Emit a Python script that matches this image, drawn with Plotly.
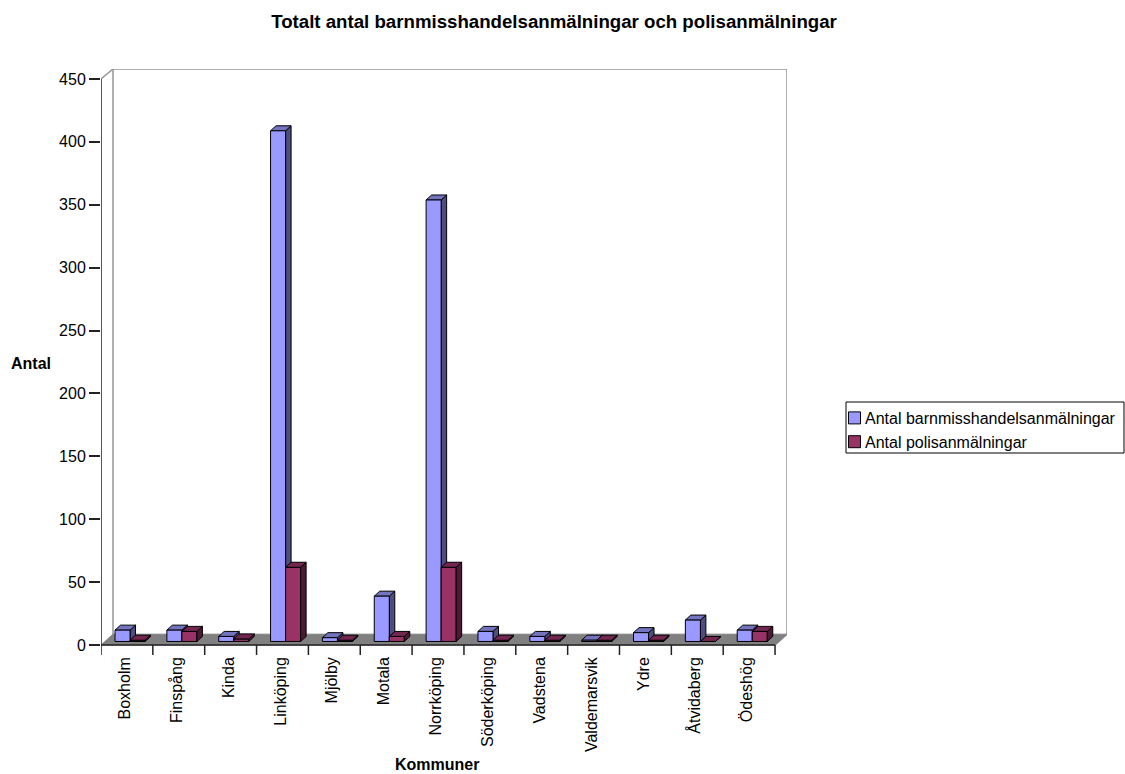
import plotly.graph_objects as go

categories = ["Boxholm", "Finspång", "Kinda", "Linköping", "Mjölby", "Motala", "Norrköping",
              "Söderköping", "Vadstena", "Valdemarsvik", "Ydre", "Åtvidaberg", "Ödeshög"]
anmalningar = [9, 9, 4, 406, 3, 36, 351, 8, 4, 1, 7, 17, 9]
polisanmalningar = [1, 8, 2, 59, 1, 4, 59, 1, 1, 1, 1, 0, 8]
series_names = ["Antal barnmisshandelsanmälningar", "Antal polisanmälningar"]
y_ticks = [0, 50, 100, 150, 200, 250, 300, 350, 400, 450]

FONT = "Liberation Sans, Arial, sans-serif"
W, H = 1125, 774
L, R, T, B = 101, 787, 69, 655
n = len(categories)
px_x = 51.85
px_y = (645 - 79) / 450
xmax = (R - L) / px_x
ymin, ymax = -(B - 645) / px_y, (645 - T) / px_y
wall_dx, wall_dy = 12 / px_x, 8.6
dx, dy = 5.5 / px_x, 4.0
base = 2.8
bw = 0.29
off = [0.415, 0.705]
GREY = "#959595"


def faces(values, offset):
    top_x, top_y, side_x, side_y = [], [], [], []
    for i, v in enumerate(values):
        x0, x1 = i + offset - bw / 2, i + offset + bw / 2
        y0, y1 = base, base + v
        top_x += [x0, x0 + dx, x1 + dx, x1, x0, None]
        top_y += [y1, y1 + dy, y1 + dy, y1, y1, None]
        side_x += [x1, x1 + dx, x1 + dx, x1, x1, None]
        side_y += [y0, y0 + dy, y1 + dy, y1, y0, None]
    return top_x, top_y, side_x, side_y


def poly(xs, ys, fill, xa="x", ya="y"):
    return go.Scatter(x=xs, y=ys, mode="lines", fill="toself", fillcolor=fill,
                      line=dict(color="black", width=1), hoverinfo="skip",
                      showlegend=False, xaxis=xa, yaxis=ya)


def line(xs, ys, color, width=1.0):
    return go.Scatter(x=xs, y=ys, mode="lines", line=dict(color=color, width=width),
                      hoverinfo="skip", showlegend=False)


fig = go.Figure()
# walls and floor
fig.add_trace(line([0, wall_dx, xmax, xmax, n], [450, ymax, ymax, wall_dy, 0], GREY, 1.5))
fig.add_trace(line([wall_dx, wall_dx], [ymax, wall_dy], GREY, 1.5))
fig.add_trace(go.Scatter(x=[0, wall_dx, xmax, n, 0], y=[0, wall_dy, wall_dy, 0, 0], mode="lines",
                         fill="toself", fillcolor="#808080", line=dict(color="#808080", width=1),
                         hoverinfo="skip", showlegend=False))
fig.add_trace(line([0, 0], [0, 450], "#222222", 1.5))
fig.add_trace(line([0, n], [0, 0], "#222222", 1.5))
tx, ty = [], []
for i in range(n + 1):
    tx += [i, i, None]
    ty += [0, ymin, None]
fig.add_trace(line(tx, ty, "#222222", 1.5))

# blue depth faces sit beneath the front faces of the overlay
t_x, t_y, s_x, s_y = faces(anmalningar, off[0])
fig.add_trace(poly(s_x, s_y, "#4D4D80"))
fig.add_trace(poly(t_x, t_y, "#7373BF"))

# front faces
fig.add_trace(go.Bar(x=[i + off[0] for i in range(n)], y=anmalningar, base=base, width=bw,
                     name=series_names[0], marker=dict(color="#9999FF", line=dict(color="black", width=1)),
                     legendgroup="a", xaxis="x2", yaxis="y2"))
fig.add_trace(go.Bar(x=[i + off[1] for i in range(n)], y=polisanmalningar, base=base, width=bw,
                     name=series_names[1], marker=dict(color="#993366", line=dict(color="black", width=1)),
                     legendgroup="b", xaxis="x2", yaxis="y2"))
t_x, t_y, s_x, s_y = faces(polisanmalningar, off[1])
fig.add_trace(poly(s_x, s_y, "#4D1933", "x2", "y2"))
fig.add_trace(poly(t_x, t_y, "#732650", "x2", "y2"))

tick_font = dict(family=FONT, size=16, color="black")
bold_font = dict(family=FONT, size=16, color="black")


def paper_x(p):
    return (p - L) / (R - L)


def paper_y(p):
    return (B - p) / (B - T)


fig.update_layout(
    width=W, height=H, autosize=False, barmode="overlay", plot_bgcolor="white", paper_bgcolor="white",
    margin=dict(l=L, r=W - R, t=T, b=H - B, pad=0, autoexpand=False),
    title=dict(text="<b>Totalt antal barnmisshandelsanmälningar och polisanmälningar</b>",
               x=554 / W, xanchor="center", y=1 - 21 / H, yanchor="middle", font=dict(family=FONT, size=18.67, color="black")),
    xaxis=dict(range=[0, xmax], tickvals=[i + 0.46 for i in range(n)], ticktext=categories, ticks="",
               tickangle=-90, tickfont=tick_font, ticklabelstandoff=-2, showgrid=False, zeroline=False, showline=False, automargin=False),
    yaxis=dict(range=[ymin, ymax], tickvals=y_ticks, ticks="outside", ticklen=11, tickcolor="#222222", tickwidth=1.5,
               tickfont=tick_font, showgrid=False, zeroline=False, showline=False, automargin=False),
    xaxis2=dict(range=[0, xmax], overlaying="x", visible=False),
    yaxis2=dict(range=[ymin, ymax], overlaying="y", visible=False),
    legend=dict(x=paper_x(825), xanchor="left", y=paper_y(401), yanchor="top", font=dict(family=FONT, size=16, color="black"),
                bgcolor="rgba(0,0,0,0)", borderwidth=0, tracegroupgap=3, traceorder="normal"),
    annotations=[
        dict(text="<b>Antal</b>", xref="paper", yref="paper", x=paper_x(31), y=paper_y(363), showarrow=False,
             font=bold_font, xanchor="center", yanchor="middle"),
        dict(text="<b>Kommuner</b>", xref="paper", yref="paper", x=paper_x(437), y=paper_y(764), showarrow=False,
             font=bold_font, xanchor="center", yanchor="middle"),
    ],
    shapes=[dict(type="rect", xref="paper", yref="paper", x0=paper_x(846), x1=paper_x(1124), y0=paper_y(453), y1=paper_y(402),
                 line=dict(color="black", width=1), fillcolor="rgba(0,0,0,0)", layer="below")],
)

post = """
document.body.style.margin='0';document.body.style.overflow='hidden';
document.querySelectorAll('.legendsymbols').forEach(function(g){
  g.setAttribute('transform','translate(9.5,0) '+(g.getAttribute('transform')||''));
});
"""
fig.write_html("out.html", post_script=post, config=dict(displayModeBar=False))
